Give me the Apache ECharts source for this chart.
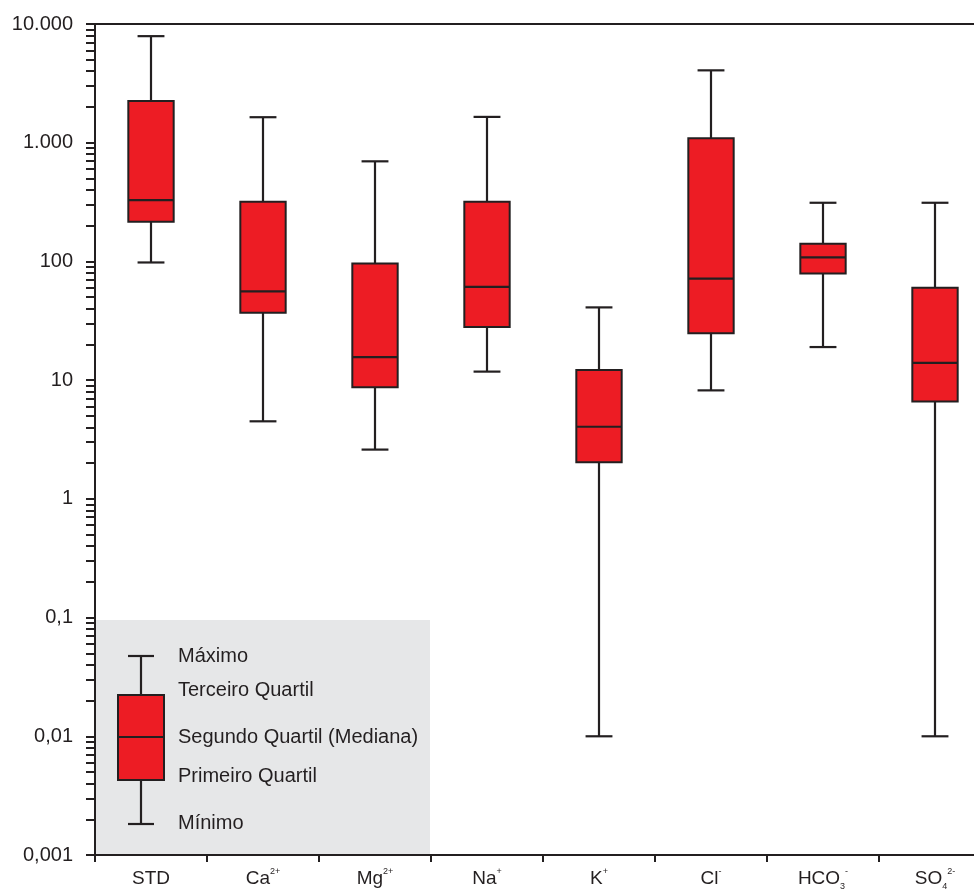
<!DOCTYPE html>
<html>
<head>
<meta charset="utf-8">
<title>Boxplot</title>
<script src="https://cdn.jsdelivr.net/npm/echarts@6/dist/echarts.min.js"></script>
<style>
  html, body { margin: 0; padding: 0; background: #fff; }
  #chart { width: 974px; height: 895px; }
</style>
</head>
<body>
<div id="chart"></div>
<script>
// categories and their rich-text labels
const categories = ['STD', 'Ca2+', 'Mg2+', 'Na+', 'K+', 'Cl-', 'HCO3-', 'SO42-']
const categoryLabels = [
    '{b|STD}', '{b|Ca}{sup|2+}', '{b|Mg}{sup|2+}', '{b|Na}{sup|+}',
    '{b|K}{sup|+}', '{b|Cl}{sup|-}', '{b|HCO}{sub|3}{sup|-}', '{b|SO}{sub|4}{sup|2-}'
]

// box statistics
const minimos  = [98,   4.5,  2.6,  11.8, 0.01, 8.2,  19,  0.01]
const quartil1 = [216,  37,   8.7,  28,   2.03, 24.8, 79,  6.6]
const medianas = [329,  56,   15.6, 61,   4.05, 71.5, 108, 14]
const quartil3 = [2250, 318,  96,   318,  12.2, 1090, 141, 60]
const maximos  = [7900, 1640, 697,  1650, 41,   4070, 312, 312]

// y axis labels
const yTickLabels = ['0,001', '0,01', '0,1', '1', '10', '100', '1.000', '10.000']

// minor ticks at 1..9 of every decade
const yMinorTicks = []
for (let d = -3; d < 4; d++) {
    for (let k = 1; k < 10; k++) {
        yMinorTicks.push(+(k * Math.pow(10, d)).toPrecision(3))
    }
}
yMinorTicks.push(10000)

const font = 'Arial, "Liberation Sans", sans-serif'
const ink = '#231f20'
const red = '#ed1c24'

const boxData = categories.map((c, i) => [i, minimos[i], quartil1[i], medianas[i], quartil3[i], maximos[i]])

function renderBox(params, api) {
    const x = api.value(0)
    const pMin = api.coord([x, api.value(1)])
    const pQ1 = api.coord([x, api.value(2)])
    const pMed = api.coord([x, api.value(3)])
    const pQ3 = api.coord([x, api.value(4)])
    const pMax = api.coord([x, api.value(5)])
    const band = api.size([1, 1])[0]
    const cx = pMin[0]
    const boxW = band * 0.405
    const capW = band * 0.24
    const line = { stroke: ink, lineWidth: 2.2 }
    return {
        type: 'group',
        children: [
            { type: 'line', shape: { x1: cx, y1: pMax[1], x2: cx, y2: pMin[1] }, style: line },
            { type: 'line', shape: { x1: cx - capW / 2, y1: pMax[1], x2: cx + capW / 2, y2: pMax[1] }, style: line },
            { type: 'line', shape: { x1: cx - capW / 2, y1: pMin[1], x2: cx + capW / 2, y2: pMin[1] }, style: line },
            {
                type: 'rect',
                shape: { x: cx - boxW / 2, y: pQ3[1], width: boxW, height: pQ1[1] - pQ3[1] },
                style: { fill: red, stroke: ink, lineWidth: 2 }
            },
            { type: 'line', shape: { x1: cx - boxW / 2, y1: pMed[1], x2: cx + boxW / 2, y2: pMed[1] }, style: line }
        ]
    }
}

// legend key in the grey panel
const legendTexts = ['Máximo', 'Terceiro Quartil', 'Segundo Quartil (Mediana)', 'Primeiro Quartil', 'Mínimo']
const legendTextY = [656, 690, 737, 776, 823]

const legendGraphics = [
    { type: 'rect', z: -1, shape: { x: 96, y: 620, width: 334, height: 235 }, style: { fill: '#e6e7e8' } },
    { type: 'line', shape: { x1: 141, y1: 656, x2: 141, y2: 824 }, style: { stroke: ink, lineWidth: 2.2 } },
    { type: 'line', shape: { x1: 128, y1: 656, x2: 154, y2: 656 }, style: { stroke: ink, lineWidth: 2.2 } },
    { type: 'line', shape: { x1: 128, y1: 824, x2: 154, y2: 824 }, style: { stroke: ink, lineWidth: 2.2 } },
    { type: 'rect', shape: { x: 118, y: 695, width: 46, height: 85 }, style: { fill: red, stroke: ink, lineWidth: 2 } },
    { type: 'line', shape: { x1: 118, y1: 737, x2: 164, y2: 737 }, style: { stroke: ink, lineWidth: 2.2 } }
].concat(legendTexts.map((t, i) => ({
    type: 'text',
    x: 178,
    y: legendTextY[i],
    style: { text: t, fill: ink, font: '20px ' + font, textVerticalAlign: 'middle' }
})))

const chart = echarts.init(document.getElementById('chart'))

chart.setOption({
    backgroundColor: '#fff',
    animation: false,
    grid: { left: 95, top: 24, width: 896, bottom: 40, outerBoundsMode: 'none', containLabel: false },
    xAxis: [
        {
            type: 'category',
            data: categories,
            boundaryGap: true,
            axisLine: { lineStyle: { color: ink, width: 2 } },
            axisTick: { show: true, interval: 0, length: 7, alignWithLabel: false, lineStyle: { color: ink, width: 2 } },
            axisLabel: {
                interval: 0,
                margin: 12,
                formatter: (v, i) => categoryLabels[i],
                rich: {
                    b: { fontSize: 19, fontFamily: font, color: ink, lineHeight: 24 },
                    sup: { fontSize: 9, fontFamily: font, color: ink, lineHeight: 12, verticalAlign: 'top' },
                    sub: { fontSize: 9, fontFamily: font, color: ink, lineHeight: 10, verticalAlign: 'bottom' }
                }
            },
            splitLine: { show: false }
        },
        {
            type: 'category',
            position: 'top',
            data: categories,
            axisLine: { lineStyle: { color: ink, width: 2 } },
            axisTick: { show: false },
            axisLabel: { show: false }
        }
    ],
    yAxis: {
        type: 'log',
        logBase: 10,
        min: 0.001,
        max: 10000,
        splitNumber: 7,
        axisLine: { show: true, lineStyle: { color: ink, width: 2 } },
        axisTick: { show: true, length: 9, customValues: yMinorTicks, lineStyle: { color: ink, width: 2 } },
        axisLabel: {
            margin: 22,
            color: ink,
            fontSize: 20,
            fontFamily: font,
            formatter: v => yTickLabels[Math.round(Math.log10(v)) + 3]
        },
        splitLine: { show: false }
    },
    graphic: legendGraphics,
    series: [
        {
            type: 'custom',
            renderItem: renderBox,
            data: boxData,
            encode: { x: 0, y: [1, 2, 3, 4, 5] },
            z: 3
        }
    ]
})
</script>
</body>
</html>
